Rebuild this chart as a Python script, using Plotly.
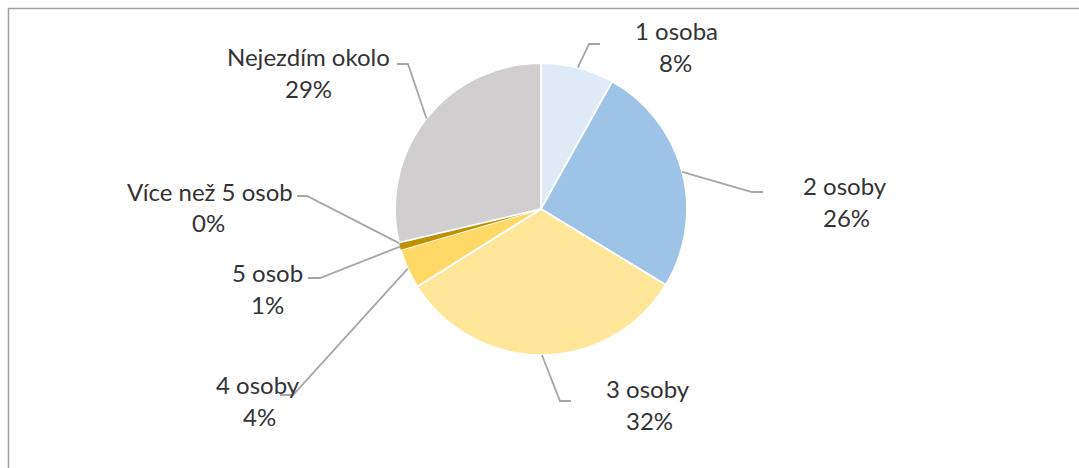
import math
import plotly.graph_objects as go

# Survey data: how many people ride along (share of answers, %)
categories = ["1 osoba", "2 osoby", "3 osoby", "4 osoby", "5 osob", "Více než 5 osob", "Nejezdím okolo"]
shares = [8.1, 25.6, 32.4, 4.4, 0.7, 0.1, 28.7]
colors = ["#DEEBF7", "#9DC3E6", "#FFE699", "#FFD966", "#BF9000", "#7F6000", "#D0CECE"]

W, H = 1079, 468
CX, CY, R = 541, 209, 146   # pie centre and radius in pixels

# Label layout (pixels): centre of the name line, centre of the percent line,
# elbow of the leader line and x where its horizontal tail ends
name_pos = [(676, 31), (845, 186), (648, 388), (258, 384), (267, 272), (210, 191), (308, 56)]
pct_pos = [(675, 63), (846, 217), (649, 420), (259, 416), (267, 304), (208, 222), (308, 88)]
elbow = [(589, 44), (752, 192), (560, 401), (293, 395), (320, 278), (307, 196), (408, 64)]
tail_x = [600, 763, 571, 280, 308, 297, 397]

FONT = dict(family="Lato, Carlito, Calibri, sans-serif", size=24, color="#333333")
LEADER = "#A6A6A6"


def px(x):
    return x / W


def py(y):
    return 1 - y / H


# white separators, none on the hairline slices so they don't read as gaps
border_w = [0 if s < 1 else 1.8 for s in shares]

fig = go.Figure()
fig.add_trace(go.Pie(
    labels=categories,
    values=shares,
    sort=False,
    direction="clockwise",
    rotation=0,
    marker=dict(colors=colors, line=dict(color="white", width=border_w)),
    textinfo="none",
    hoverinfo="label+percent",
    showlegend=False,
    domain=dict(x=[px(CX - R), px(CX + R)], y=[py(CY + R), py(CY - R)]),
))

total = sum(shares)
shapes = []
annotations = []
cum = 0.0
for i, cat in enumerate(categories):
    frac = shares[i] / total
    mid = (cum + frac / 2) * 2 * math.pi
    cum += frac
    # leader starts on the rim at the slice's mid angle
    sx = CX + R * math.sin(mid)
    sy = CY - R * math.cos(mid)
    ex, ey = elbow[i]
    path = f"M {px(sx)} {py(sy)} L {px(ex)} {py(ey)} L {px(tail_x[i])} {py(ey)}"
    shapes.append(dict(type="path", xref="paper", yref="paper", path=path,
                       line=dict(color=LEADER, width=1.8)))
    pct_text = f"{int(frac * 100 + 0.5)}%"
    nx, ny = name_pos[i]
    qx, qy = pct_pos[i]
    annotations.append(dict(text=cat, x=px(nx), y=py(ny), xref="paper", yref="paper",
                            xanchor="center", yanchor="middle", showarrow=False, font=FONT))
    annotations.append(dict(text=pct_text, x=px(qx), y=py(qy), xref="paper", yref="paper",
                            xanchor="center", yanchor="middle", showarrow=False, font=FONT))

# chart area frame
shapes.append(dict(type="rect", xref="paper", yref="paper",
                   x0=px(8.5), x1=px(W + 20), y0=py(H + 20), y1=py(8.5),
                   line=dict(color="#A0A0A0", width=1.5)))

fig.update_layout(
    width=W, height=H,
    margin=dict(l=0, r=0, t=0, b=0),
    paper_bgcolor="white",
    plot_bgcolor="white",
    shapes=shapes,
    annotations=annotations,
)

fig.write_html("out.html")
